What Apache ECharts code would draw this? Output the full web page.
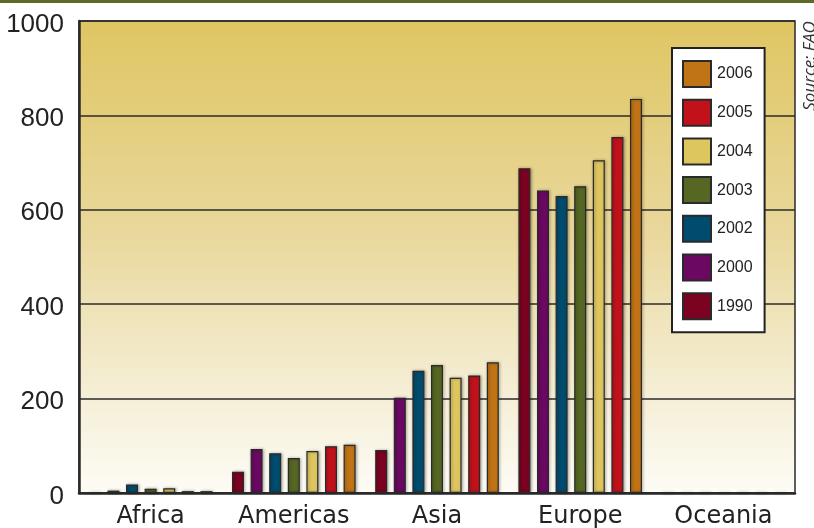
<!DOCTYPE html>
<html>
<head>
<meta charset="utf-8">
<script src="https://cdn.jsdelivr.net/npm/echarts@6/dist/echarts.min.js"></script>
<style>html,body{margin:0;padding:0;background:#fff;}#c{width:814px;height:528px;}</style>
</head>
<body>
<div id="c"></div>
<script>
const categories = ['Africa', 'Americas', 'Asia', 'Europe', 'Oceania'];
const seriesNames = ['1990', '2000', '2002', '2003', '2004', '2005', '2006'];
const legendOrder = ['2006', '2005', '2004', '2003', '2002', '2000', '1990'];
const colors = ['#7c0221', '#6a0862', '#004c6e', '#566623', '#dec65f', '#c1121c', '#c07415'];
const v1990 = [1.5, 45, 91, 688, 0.3];
const v2000 = [5, 93, 202, 641, 0];
const v2002 = [18, 84, 259, 629, 0.3];
const v2003 = [9, 74, 271, 650, 0];
const v2004 = [10, 89, 244, 705, 1.5];
const v2005 = [4, 99, 249, 754, 0.5];
const v2006 = [4, 102, 277, 835, 0];
const yTicks = [0, 200, 400, 600, 800, 1000];
const sourceText = 'Source: FAO';

const values = [v1990, v2000, v2002, v2003, v2004, v2005, v2006];

const chart = echarts.init(document.getElementById('c'), null, {renderer: 'canvas'});
const series = seriesNames.map((n, i) => ({
  name: n,
  type: 'bar',
  data: values[i],
  barWidth: 12,
  barGap: '55%',
  itemStyle: {
    color: colors[i],
    borderColor: '#2a2a2a',
    borderWidth: 1.2,
    shadowColor: 'rgba(0,0,0,0.35)',
    shadowBlur: 3,
    shadowOffsetX: 1,
    shadowOffsetY: 0
  },
  emphasis: {disabled: true},
  animation: false
}));

chart.setOption({
  animation: false,
  grid: {
    left: 79, right: 19, top: 21, bottom: 35,
    containLabel: false,
    outerBoundsMode: 'none',
    show: true,
    backgroundColor: {
      type: 'linear', x: 0, y: 0, x2: 0, y2: 1,
      colorStops: [
        {offset: 0, color: '#dfc562'},
        {offset: 0.45, color: '#e9d89c'},
        {offset: 0.75, color: '#f4ecd0'},
        {offset: 1, color: '#fdfcf6'}
      ]
    },
    borderColor: '#2a2a2a',
    borderWidth: 1.5
  },
  legend: {
    data: legendOrder,
    orient: 'vertical',
    left: 672, top: 48,
    backgroundColor: '#ffffff',
    borderColor: '#222',
    borderWidth: 2,
    padding: [12, 12, 12, 10],
    itemWidth: 28,
    itemHeight: 26,
    itemGap: 10.7,
    icon: 'rect',
    selectedMode: false,
    textStyle: {fontFamily: 'Liberation Sans', fontSize: 16, color: '#222', padding: [0, 0, 0, 1]}
  },
  xAxis: {
    type: 'category',
    data: categories,
    axisLine: {show: true, lineStyle: {color: '#2a2a2a', width: 2.5}},
    axisTick: {show: false},
    axisLabel: {fontFamily: 'DejaVu Sans', fontSize: 24, color: '#222', margin: 12, interval: 0},
    splitLine: {show: false}
  },
  yAxis: {
    type: 'value',
    min: 0, max: 1000, interval: 200,
    axisLine: {show: true, lineStyle: {color: '#2a2a2a', width: 2.5}},
    axisTick: {show: false},
    axisLabel: {
      fontFamily: 'Liberation Sans', fontSize: 26, color: '#222', margin: 15,
      formatter: v => yTicks.includes(v) ? '{a|' + v + '}' : '',
      rich: {a: {fontFamily: 'Liberation Sans', fontSize: 26, color: '#222', padding: [7, 0, 0, 0]}}
    },
    splitLine: {show: true, lineStyle: {color: '#2a2a2a', width: 1.5}}
  },
  graphic: [
    {type: 'rect', left: 0, top: 0, shape: {width: 814, height: 3}, style: {fill: '#5c6a26'}, z: 100},
    {
      type: 'text', x: 802, y: 66, rotation: Math.PI / 2,
      style: {
        text: sourceText, fill: '#333', font: 'italic 17px "Open Sans"',
        align: 'center', verticalAlign: 'top'
      },
      z: 100
    }
  ],
  series: series
});
</script>
</body>
</html>
